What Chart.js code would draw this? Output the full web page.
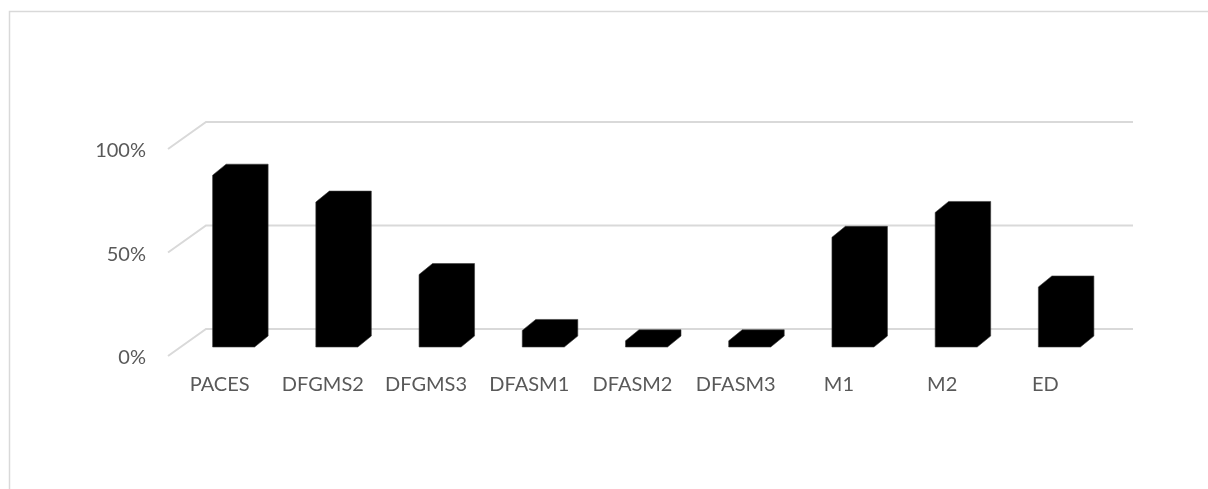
<!doctype html>
<html lang="fr">
<head>
<meta charset="utf-8">
<title>Répartition par année</title>
<script src="https://cdn.jsdelivr.net/npm/chart.js@4.4.0/dist/chart.umd.min.js"></script>
<style>
  html, body { margin: 0; padding: 0; background: #fff; }
</style>
</head>
<body>
<canvas id="chart" width="1208" height="489"></canvas>
<script>
// données
var etiquetas = ['PACES', 'DFGMS2', 'DFGMS3', 'DFASM1', 'DFASM2', 'DFASM3', 'M1', 'M2', 'ED'];
var valores = [0.83, 0.70, 0.35, 0.08, 0.03, 0.03, 0.53, 0.65, 0.29];
var marcas = [0, 0.5, 1];

var GRIS = '#d9d9d9';
var PROF_X = 38, PROF_Y = -27;   // décalage du mur du fond
var BARRE_X = 13.5, BARRE_Y = -11; // épaisseur des barres
var DECAL_X = 14, DECAL_Y = -9;  // position des barres dans la profondeur

// dessine le cadre, le mur du fond et les barres en relief
var relieve = {
    id: 'relieve',
    beforeDatasetsDraw: function (chart) {
        var ctx = chart.ctx;
        var area = chart.chartArea;
        var y = chart.scales.y;
        ctx.save();
        ctx.strokeStyle = GRIS;
        ctx.lineWidth = 1.5;
        ctx.strokeRect(9.5, 11.5, 1400, 600);
        ctx.lineWidth = 2;
        marcas.forEach(function (v) {
            var py = y.getPixelForValue(v);
            ctx.beginPath();
            ctx.moveTo(area.left, py);
            ctx.lineTo(area.left + PROF_X, py + PROF_Y);
            ctx.lineTo(area.right + PROF_X - 2, py + PROF_Y);
            ctx.stroke();
        });
        ctx.restore();
    },
    afterDatasetsDraw: function (chart) {
        var ctx = chart.ctx;
        var meta = chart.getDatasetMeta(0);
        ctx.save();
        ctx.fillStyle = '#000';
        ctx.strokeStyle = '#3a3a3a';
        ctx.lineWidth = 0.6;
        meta.data.forEach(function (el) {
            var p = el.getProps(['x', 'y', 'base', 'width'], true);
            var x0 = p.x - p.width / 2 + DECAL_X;
            var x1 = p.x + p.width / 2 + DECAL_X;
            var top = p.y + DECAL_Y;
            var bot = p.base + DECAL_Y;
            ctx.beginPath();
            ctx.moveTo(x0, bot);
            ctx.lineTo(x0, top);
            ctx.lineTo(x0 + BARRE_X, top + BARRE_Y);
            ctx.lineTo(x1 + BARRE_X, top + BARRE_Y);
            ctx.lineTo(x1 + BARRE_X, bot + BARRE_Y);
            ctx.lineTo(x1, bot);
            ctx.closePath();
            ctx.fill();
            ctx.stroke();
        });
        ctx.restore();
    }
};

new Chart(document.getElementById('chart').getContext('2d'), {
    type: 'bar',
    data: {
        labels: etiquetas,
        datasets: [{
            data: valores,
            backgroundColor: 'rgba(0,0,0,0)',
            borderWidth: 0,
            categoryPercentage: 1,
            barPercentage: 0.407
        }]
    },
    options: {
        responsive: false,
        animation: false,
        devicePixelRatio: 1,
        layout: { padding: { top: 149, right: 111, left: 0, bottom: 0 } },
        plugins: { legend: { display: false }, tooltip: { enabled: false } },
        scales: {
            x: {
                grid: { display: false, drawTicks: false },
                border: { display: false },
                ticks: {
                    color: '#595959',
                    font: { family: 'Lato', size: 20 },
                    padding: 17,
                    maxRotation: 0,
                    autoSkip: false
                },
                afterFit: function (s) { s.height = 133; }
            },
            y: {
                min: 0,
                max: 1,
                grid: { display: false, drawTicks: false },
                border: { display: false },
                afterBuildTicks: function (s) {
                    s.ticks = marcas.map(function (v) { return { value: v }; });
                },
                ticks: {
                    color: '#595959',
                    font: { family: 'Lato', size: 20 },
                    padding: 22,
                    labelOffset: 2,
                    callback: function (v) { return Math.round(v * 100) + '%'; }
                },
                afterFit: function (s) { s.width = 168; }
            }
        }
    },
    plugins: [relieve]
});
</script>
</body>
</html>
